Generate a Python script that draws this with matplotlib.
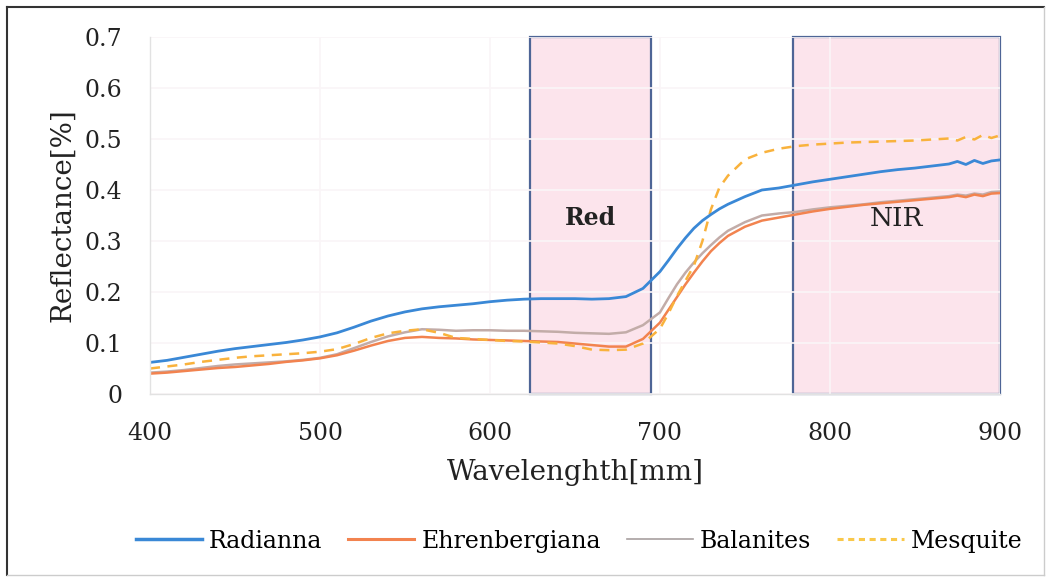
import matplotlib
matplotlib.use("Agg")
import matplotlib.pyplot as plt
from matplotlib.patches import Rectangle
from matplotlib.lines import Line2D

# Wavelength samples (nm)
wavelength = [400, 410, 420, 430, 440, 450, 460, 470, 480, 490,
              500, 510, 520, 530, 540, 550, 560, 570, 580, 590,
              600, 610, 620, 630, 640, 650, 660, 670, 680, 690,
              700, 705, 710, 715, 720, 725, 730, 735, 740, 750,
              760, 770, 780, 790, 800, 810, 820, 830, 840, 850,
              860, 870, 875, 880, 885, 890, 895, 900]

radianna = [0.062, 0.066, 0.072, 0.078, 0.084, 0.089, 0.093, 0.097, 0.101, 0.106,
            0.112, 0.120, 0.131, 0.143, 0.153, 0.161, 0.167, 0.171, 0.174, 0.177,
            0.181, 0.184, 0.186, 0.187, 0.187, 0.187, 0.186, 0.187, 0.191, 0.207,
            0.240, 0.262, 0.285, 0.306, 0.325, 0.340, 0.352, 0.363, 0.372, 0.387,
            0.400, 0.404, 0.410, 0.416, 0.421, 0.426, 0.431, 0.436, 0.440, 0.443,
            0.447, 0.451, 0.456, 0.450, 0.458, 0.452, 0.457, 0.459]

ehrenbergiana = [0.040, 0.042, 0.045, 0.048, 0.051, 0.053, 0.056, 0.059, 0.063, 0.066,
                 0.070, 0.076, 0.085, 0.095, 0.104, 0.110, 0.112, 0.110, 0.109, 0.107,
                 0.106, 0.105, 0.104, 0.103, 0.102, 0.099, 0.096, 0.093, 0.093, 0.108,
                 0.140, 0.165, 0.190, 0.215, 0.238, 0.260, 0.280, 0.296, 0.310, 0.328,
                 0.340, 0.346, 0.352, 0.358, 0.363, 0.367, 0.371, 0.374, 0.377, 0.380,
                 0.383, 0.386, 0.389, 0.386, 0.391, 0.388, 0.393, 0.394]

balanites = [0.042, 0.044, 0.047, 0.051, 0.055, 0.058, 0.060, 0.062, 0.064, 0.067,
             0.071, 0.078, 0.090, 0.102, 0.113, 0.121, 0.127, 0.126, 0.124, 0.125,
             0.125, 0.124, 0.124, 0.123, 0.122, 0.120, 0.119, 0.118, 0.121, 0.135,
             0.160, 0.188, 0.215, 0.238, 0.258, 0.276, 0.292, 0.307, 0.320, 0.337,
             0.350, 0.354, 0.357, 0.362, 0.366, 0.369, 0.372, 0.376, 0.379, 0.382,
             0.385, 0.388, 0.391, 0.389, 0.393, 0.391, 0.396, 0.397]

mesquite = [0.050, 0.054, 0.058, 0.063, 0.067, 0.071, 0.074, 0.076, 0.078, 0.080,
            0.083, 0.088, 0.098, 0.110, 0.119, 0.124, 0.127, 0.120, 0.110, 0.108,
            0.106, 0.104, 0.103, 0.101, 0.099, 0.094, 0.087, 0.086, 0.087, 0.099,
            0.128, 0.158, 0.192, 0.222, 0.252, 0.300, 0.362, 0.405, 0.428, 0.460,
            0.473, 0.481, 0.486, 0.489, 0.491, 0.493, 0.494, 0.495, 0.496, 0.497,
            0.499, 0.501, 0.497, 0.504, 0.499, 0.508, 0.502, 0.507]

series_names = ["Radianna", "Ehrenbergiana", "Balanites", "Mesquite"]
x_ticks = [400, 500, 600, 700, 800, 900]
y_ticks = [0, 0.1, 0.2, 0.3, 0.4, 0.5, 0.6, 0.7]
y_tick_labels = ["0", "0.1", "0.2", "0.3", "0.4", "0.5", "0.6", "0.7"]

# Spectral bands highlighted on the chart: (label, start nm, end nm)
bands = [("Red", 623.5, 695), ("NIR", 778, 900)]

plt.rcParams["font.family"] = ["DejaVu Serif"]

fig = plt.figure(figsize=(10.47, 5.78), dpi=100)
ax = fig.add_axes([0.1433, 0.3183, 0.8117, 0.6177])

ax.set_xlim(400, 900)
ax.set_ylim(0, 0.7)

for label, x0, x1 in bands:
    ax.add_patch(Rectangle((x0, 0), x1 - x0, 0.7, facecolor="#FCE4EC",
                           edgecolor="#4E6596", linewidth=1.6, zorder=0.3,
                           clip_on=False))
    ax.text((x0 + x1) / 2, 0.345, label, ha="center", va="center",
            fontsize=17 if label == "Red" else 19, color="#222222",
            fontweight="bold" if label == "Red" else "normal", zorder=4)

ax.set_axisbelow(True)
ax.grid(True, color="#FAF5F7", linewidth=1.2)

ax.plot(wavelength, balanites, color="#C2ACA8", lw=1.8, zorder=2)
ax.plot(wavelength, ehrenbergiana, color="#F2834F", lw=1.8, zorder=2.1)
ax.plot(wavelength, mesquite, color="#F9B23C", lw=1.8, ls=(0, (4, 3)), zorder=2.2)
ax.plot(wavelength, radianna, color="#3A88D6", lw=2.0, zorder=2.3)

ax.set_xticks(x_ticks)
ax.set_yticks(y_ticks)
ax.set_yticklabels(y_tick_labels)
ax.tick_params(length=0, labelsize=17, colors="#222222")
ax.tick_params(axis="y", pad=20)
ax.tick_params(axis="x", pad=20)

for side in ("top", "right"):
    ax.spines[side].set_visible(False)
for side in ("left", "bottom"):
    ax.spines[side].set_color("#E2E2E2")
    ax.spines[side].set_linewidth(1.0)

ax.set_xlabel("Wavelenghth[mm]", fontsize=20, color="#222222", labelpad=10)
ax.set_ylabel("Reflectance[%]", fontsize=20, color="#222222", labelpad=6)

handles = [
    Line2D([], [], color="#3A88D6", lw=2.5),
    Line2D([], [], color="#F2834F", lw=2.2),
    Line2D([], [], color="#A8A0A0", lw=1.2),
    Line2D([], [], color="#F9C84A", lw=2.2, ls=(0, (2, 1.5))),
]
fig.legend(handles, series_names, loc="center", bbox_to_anchor=(0.553, 0.064),
           ncol=4, frameon=False, fontsize=17, handlelength=2.8,
           handletextpad=0.3, columnspacing=1.1)

# Outer frame of the chart
fig.add_artist(Line2D([0.0067, 0.0067], [0.005, 0.988], transform=fig.transFigure,
                      color="#333333", lw=1.5))
fig.add_artist(Line2D([0.0067, 0.997], [0.988, 0.988], transform=fig.transFigure,
                      color="#333333", lw=1.5))
fig.add_artist(Line2D([0.997, 0.997], [0.005, 0.988], transform=fig.transFigure,
                      color="#CCCCCC", lw=1.0))
fig.add_artist(Line2D([0.0067, 0.997], [0.005, 0.005], transform=fig.transFigure,
                      color="#CCCCCC", lw=1.0))

fig.savefig("out.png", dpi=100)
